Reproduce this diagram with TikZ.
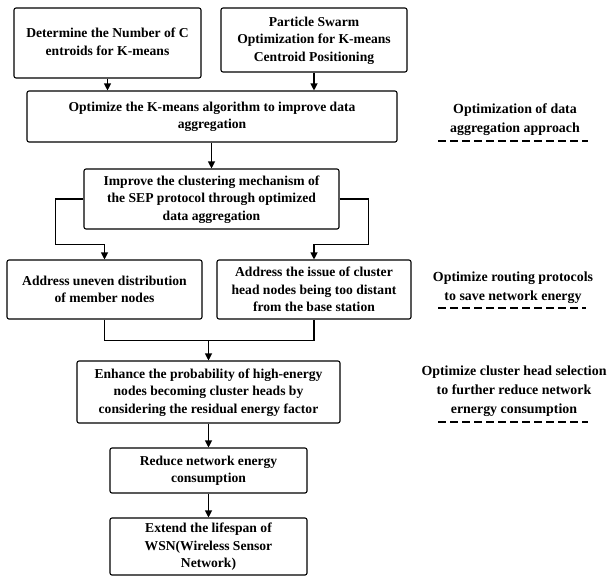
\documentclass[tikz,border=0pt]{standalone}
\usepackage{fontspec}
\setmainfont{Liberation Serif}
\usetikzlibrary{arrows.meta, positioning}

\newcommand{\sunk}[2]{\raisebox{-#1}{\begin{tabular}{@{}c@{}}#2\end{tabular}}}

\tikzset{
  box/.style={draw, line width=1.1pt, rounded corners=2pt, align=center, inner sep=0pt,
    font=\fontsize{13.6}{17.5}\selectfont\bfseries},
  note/.style={align=center, inner sep=0pt, font=\fontsize{13.9}{19}\selectfont\bfseries},
  arr/.style={line width=1.1pt, -{Triangle[length=7pt,width=7pt]}},
  wire/.style={line width=1.1pt},
  sep/.style={line width=1.3pt, dash pattern=on 8pt off 4pt}
}

\begin{document}
\begin{tikzpicture}[x=1pt, y=-1pt]
			\useasboundingbox (0,0) rectangle (609,576);
			\node[box, minimum width=187pt, minimum height=70pt] (detk) at (107.5,43) {\sunk{5pt}{Determine the Number of C\\entroids for K-means}};
			\node[box, minimum width=186pt, minimum height=64pt] (pso) [right of=detk, node distance=206.5pt, yshift=3pt] {\sunk{4pt}{Particle Swarm\\Optimization for K-means\\Centroid Positioning}};
			\node[box, minimum width=370pt, minimum height=51pt] (kmeans) at (212,116.5) {\sunk{1.5pt}{Optimize the K-means algorithm to improve data\\aggregation}};
			\node[box, minimum width=255pt, minimum height=60pt] (sep) [below of=kmeans, node distance=82.5pt, xshift=-0.5pt] {\sunk{2pt}{Improve the clustering mechanism of\\the SEP protocol through optimized\\data aggregation}};
			\node[box, minimum width=195pt, minimum height=59pt] (uneven) [below of=sep, node distance=90.5pt, xshift=-107pt] {Address uneven distribution\\of member nodes};
			\node[box, minimum width=194pt, minimum height=59pt] (distant) [below of=sep, node distance=90.5pt, xshift=102.5pt] {Address the issue of cluster\\head nodes being too distant\\from the base station};
			\node[box, minimum width=263pt, minimum height=62pt] (chead) [below of=sep, node distance=193pt, xshift=-3pt] {\sunk{2pt}{Enhance the probability of high-energy\\nodes becoming cluster heads by\\considering the residual energy factor}};
			\node[box, minimum width=197pt, minimum height=45pt] (reduce) [below of=chead, node distance=78.5pt] {\sunk{1.5pt}{Reduce network energy\\consumption}};
			\node[box, minimum width=197pt, minimum height=57pt] (life) [below of=reduce, node distance=76pt] {\sunk{4pt}{Extend the lifespan of\\WSN(Wireless Sensor\\Network)}};

			% side notes
			\node[note] (nagg) at (515,120) {Optimization of data\\aggregation approach};
			\node[note] (nroute) at (513,287.5) {Optimize routing protocols\\to save network energy};
			\node[note] (nsel) at (514,391.5) {Optimize cluster head selection\\to further reduce network\\ernergy consumption};
			\draw[sep] (438,141) -- (588,141);
			\draw[sep] (438,308) -- (586,308);
			\draw[sep] (438,422) -- (588,422);

			\path[arr]
			(detk) edge (detk |- kmeans.north)
			(pso) edge (pso |- kmeans.north)
			(kmeans.south -| sep.north) edge (sep.north)
			(chead) edge (reduce)
			(reduce) edge (life);

			\draw[arr] (sep.west) -- ++(-28,0) |- ([yshift=15pt]uneven.north) -- (uneven.north);
			\draw[arr] (sep.east) -- ++(29,0) |- ([yshift=15pt]distant.north) -- (distant.north);
			\draw[wire] (uneven.south) |- ([yshift=-21pt]uneven.south -| distant.south) -- (distant.south);
			\draw[arr] ([yshift=-21pt]uneven.south -| chead.north) -- (chead.north);
		\end{tikzpicture}
\end{document}
